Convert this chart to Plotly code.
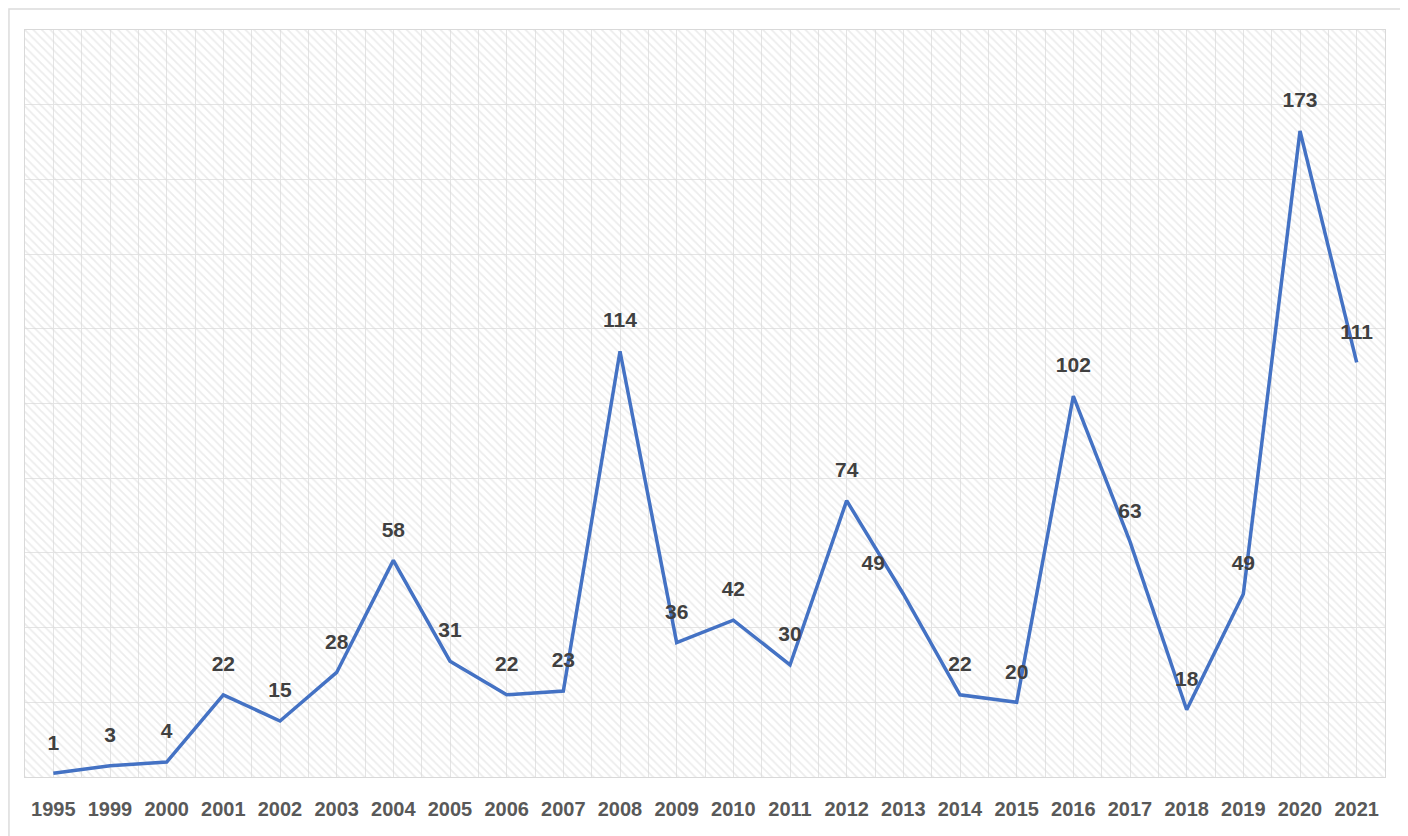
import plotly.graph_objects as go

years = ["1995", "1999", "2000", "2001", "2002", "2003", "2004", "2005", "2006", "2007",
         "2008", "2009", "2010", "2011", "2012", "2013", "2014", "2015", "2016", "2017",
         "2018", "2019", "2020", "2021"]
counts = [1, 3, 4, 22, 15, 28, 58, 31, 22, 23, 114, 36, 42, 30, 74, 49, 22, 20, 102, 63,
          18, 49, 173, 111]
y_max = 200
y_step = 20

n = len(years)
xs = list(range(n))
FONT = "Liberation Sans, Arial, sans-serif"

fig = go.Figure()

# hatched plot-area background
lo, hi = -0.5, n - 0.5
fig.add_trace(go.Scatter(
    x=[lo, hi, hi, lo, lo], y=[0, 0, y_max, y_max, 0],
    mode="lines", line=dict(width=0), fill="toself",
    fillcolor="rgba(0,0,0,0)",
    fillpattern=dict(shape="\\", fgcolor="#dadada", bgcolor="rgba(0,0,0,0)",
                     size=6, solidity=0.3),
    hoverinfo="skip", showlegend=False,
))

positions = ["top center"] * n
positions[years.index("2013")] = "top left"

fig.add_trace(go.Scatter(
    x=xs, y=counts, mode="lines+markers+text",
    line=dict(color="#4472C4", width=3.5),
    marker=dict(size=28, color="rgba(0,0,0,0)"),
    text=[str(v) for v in counts], textposition=positions,
    textfont=dict(family=FONT, size=21, color="#404040", weight="bold"),
    hoverinfo="x+y", showlegend=False,
))

fig.update_layout(
    width=1408, height=836,
    margin=dict(l=17, r=31, t=22, b=67, autoexpand=False),
    paper_bgcolor="white", plot_bgcolor="white",
    xaxis=dict(
        range=[lo, hi], tickmode="array", tickvals=xs, ticktext=years,
        tickangle=0, automargin=False,
        tickfont=dict(family=FONT, size=20, color="#595959", weight="bold"),
        showgrid=True, gridcolor="#e4e4e4", gridwidth=1,
        minor=dict(tick0=0.5, dtick=1, showgrid=True, gridcolor="#e4e4e4", gridwidth=1),
        showline=True, linecolor="#d9d9d9", linewidth=1, mirror=True,
        zeroline=False, ticks="", ticklabelstandoff=14,
    ),
    yaxis=dict(
        range=[0, y_max], dtick=y_step, showticklabels=False, automargin=False,
        showgrid=True, gridcolor="#e4e4e4", gridwidth=1,
        showline=True, linecolor="#d9d9d9", linewidth=1, mirror=True,
        zeroline=False, ticks="",
    ),
    shapes=[dict(type="rect", xref="paper", yref="paper",
                 x0=-0.0118, x1=1.0147, y0=-0.12, y1=1.0281,
                 line=dict(color="#dcdcdc", width=1.5), layer="below")],
)

fig.write_html("out.html")
